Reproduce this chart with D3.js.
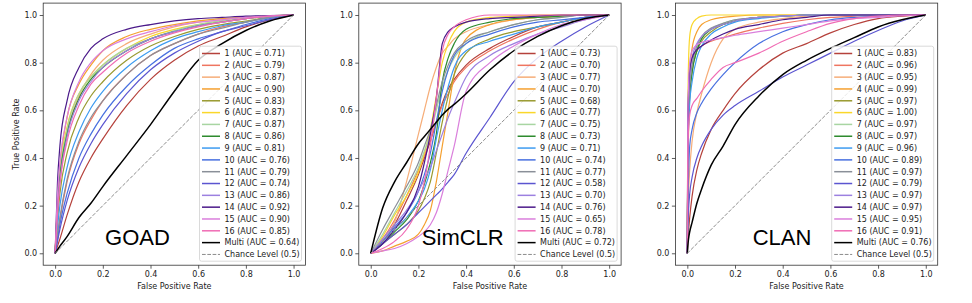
<!DOCTYPE html>
<html><head><meta charset="utf-8">
<script src="https://cdn.jsdelivr.net/npm/d3@7"></script>
<style>body{margin:0;background:#fff}svg text{font-family:"DejaVu Sans",sans-serif}</style>
</head><body><svg id="c" width="972" height="303"></svg>
<script>
// ---------- DATA ----------
const seriesNames = ["1","2","3","4","5","6","7","8","9","10","11","12","13","14","15","16","Multi"];
const panelTitles = ["GOAD","SimCLR","CLAN"];
const axisTicks = [0.0,0.2,0.4,0.6,0.8,1.0];

const goadAUC   = ["0.71","0.79","0.87","0.90","0.83","0.87","0.87","0.86","0.81","0.76","0.79","0.74","0.86","0.92","0.90","0.85","0.64"];
const simclrAUC = ["0.73","0.70","0.77","0.70","0.68","0.77","0.75","0.73","0.71","0.74","0.77","0.58","0.70","0.76","0.65","0.78","0.72"];
const clanAUC   = ["0.83","0.96","0.95","0.99","0.97","1.00","0.97","0.97","0.96","0.89","0.97","0.79","0.97","0.97","0.95","0.91","0.76"];

const goadFPR = [0,0.01,0.02,0.05,0.1,0.15,0.2,0.3,0.4,0.5,0.6,0.7,0.8,0.9,1];
const goadTPR = [
 [0,0.03,0.06,0.16,0.30,0.40,0.48,0.62,0.73,0.81,0.87,0.91,0.95,0.98,1],
 [0,0.07,0.14,0.30,0.46,0.56,0.64,0.75,0.83,0.88,0.92,0.95,0.97,0.99,1],
 [0,0.18,0.30,0.50,0.66,0.75,0.81,0.88,0.92,0.95,0.97,0.98,0.99,0.995,1],
 [0,0.22,0.36,0.57,0.71,0.79,0.85,0.91,0.94,0.96,0.975,0.985,0.99,0.997,1],
 [0,0.14,0.25,0.42,0.57,0.66,0.72,0.81,0.87,0.91,0.94,0.96,0.975,0.99,1],
 [0,0.22,0.35,0.53,0.67,0.74,0.79,0.86,0.91,0.94,0.96,0.975,0.985,0.995,1],
 [0,0.20,0.33,0.52,0.67,0.74,0.79,0.86,0.90,0.935,0.96,0.975,0.985,0.995,1],
 [0,0.20,0.32,0.50,0.65,0.73,0.78,0.85,0.90,0.93,0.955,0.97,0.985,0.995,1],
 [0,0.11,0.20,0.36,0.51,0.61,0.68,0.78,0.85,0.90,0.93,0.955,0.97,0.99,1],
 [0,0.06,0.12,0.25,0.40,0.50,0.58,0.70,0.79,0.86,0.90,0.93,0.96,0.985,1],
 [0,0.08,0.15,0.31,0.47,0.57,0.64,0.75,0.83,0.88,0.92,0.945,0.97,0.99,1],
 [0,0.05,0.10,0.22,0.36,0.46,0.54,0.67,0.77,0.84,0.89,0.93,0.955,0.98,1],
 [0,0.18,0.30,0.49,0.64,0.72,0.78,0.85,0.90,0.93,0.955,0.97,0.985,0.995,1],
 [0,0.30,0.45,0.64,0.78,0.86,0.90,0.94,0.96,0.975,0.985,0.99,0.995,0.998,1],
 [0,0.25,0.38,0.57,0.72,0.80,0.85,0.90,0.93,0.955,0.97,0.98,0.99,0.997,1],
 [0,0.17,0.29,0.47,0.62,0.71,0.76,0.84,0.89,0.925,0.95,0.97,0.985,0.995,1],
 [0,0.015,0.03,0.07,0.15,0.21,0.28,0.41,0.54,0.68,0.81,0.88,0.935,0.975,1]
];

const simclrFPR = [0,0.05,0.1,0.15,0.2,0.225,0.25,0.275,0.3,0.325,0.35,0.4,0.5,0.6,0.7,0.8,0.9,1];
const simclrTPR = [
 [0,0.05,0.12,0.22,0.33,0.40,0.47,0.55,0.63,0.69,0.73,0.79,0.86,0.91,0.95,0.97,0.99,1],
 [0,0.06,0.14,0.24,0.35,0.41,0.48,0.55,0.62,0.67,0.72,0.78,0.85,0.90,0.94,0.97,0.99,1],
 [0,0.05,0.13,0.30,0.50,0.60,0.70,0.78,0.84,0.87,0.90,0.93,0.96,0.98,0.99,0.995,1,1],
 [0,0.01,0.03,0.05,0.08,0.12,0.18,0.30,0.45,0.60,0.75,0.90,0.96,0.98,0.99,0.995,1,1],
 [0,0.04,0.08,0.12,0.18,0.23,0.30,0.42,0.55,0.66,0.75,0.84,0.90,0.93,0.95,0.97,0.99,1],
 [0,0.07,0.16,0.24,0.34,0.42,0.52,0.66,0.80,0.88,0.93,0.97,0.99,0.995,1,1,1,1],
 [0,0.08,0.17,0.26,0.36,0.43,0.50,0.60,0.70,0.77,0.82,0.88,0.93,0.96,0.98,0.99,1,1],
 [0,0.04,0.09,0.14,0.22,0.29,0.38,0.50,0.72,0.82,0.88,0.94,0.97,0.985,0.99,0.995,1,1],
 [0,0.05,0.10,0.15,0.22,0.27,0.35,0.48,0.60,0.70,0.78,0.85,0.89,0.92,0.95,0.97,0.99,1],
 [0,0.05,0.11,0.17,0.26,0.33,0.42,0.55,0.68,0.77,0.83,0.88,0.92,0.95,0.97,0.98,0.99,1],
 [0,0.10,0.19,0.28,0.38,0.45,0.52,0.62,0.72,0.79,0.84,0.89,0.93,0.96,0.98,0.99,1,1],
 [0,0.04,0.08,0.12,0.17,0.195,0.22,0.245,0.27,0.30,0.33,0.42,0.57,0.72,0.82,0.89,0.95,1],
 [0,0.06,0.12,0.18,0.26,0.31,0.36,0.43,0.50,0.57,0.63,0.74,0.83,0.88,0.92,0.95,0.98,1],
 [0,0.04,0.10,0.17,0.28,0.38,0.50,0.65,0.88,0.93,0.95,0.97,0.985,0.99,0.995,1,1,1],
 [0,0.01,0.02,0.04,0.07,0.09,0.12,0.17,0.25,0.35,0.45,0.68,0.80,0.87,0.92,0.96,0.98,1],
 [0,0.02,0.05,0.10,0.20,0.30,0.45,0.65,0.85,0.92,0.95,0.98,1,1,1,1,1,1],
 [0,0.19,0.30,0.38,0.46,0.49,0.52,0.55,0.58,0.605,0.625,0.67,0.77,0.85,0.91,0.955,0.985,1]
];

const clanFPR = [0,0.002,0.005,0.01,0.02,0.04,0.06,0.1,0.15,0.2,0.3,0.4,0.5,0.6,0.7,0.8,0.9,1];
const clanTPR = [
 [0,0.04,0.09,0.15,0.24,0.35,0.42,0.52,0.60,0.67,0.77,0.84,0.88,0.925,0.96,0.985,0.995,1],
 [0,0.45,0.58,0.70,0.79,0.85,0.87,0.89,0.905,0.92,0.945,0.965,0.98,0.99,0.995,1,1,1],
 [0,0.15,0.25,0.35,0.47,0.59,0.67,0.80,0.90,0.94,0.97,0.985,0.995,1,1,1,1,1],
 [0,0.30,0.50,0.75,0.86,0.93,0.96,0.98,0.99,0.995,1,1,1,1,1,1,1,1],
 [0,0.40,0.55,0.66,0.76,0.85,0.89,0.93,0.96,0.975,0.99,0.995,1,1,1,1,1,1],
 [0,0.55,0.80,0.91,0.96,0.985,0.995,1,1,1,1,1,1,1,1,1,1,1],
 [0,0.42,0.57,0.68,0.78,0.86,0.90,0.94,0.965,0.98,0.99,0.995,1,1,1,1,1,1],
 [0,0.40,0.55,0.66,0.76,0.85,0.90,0.94,0.96,0.975,0.99,0.995,1,1,1,1,1,1],
 [0,0.38,0.52,0.63,0.72,0.82,0.87,0.92,0.95,0.97,0.985,0.995,1,1,1,1,1,1],
 [0,0.20,0.32,0.45,0.52,0.59,0.63,0.69,0.75,0.80,0.88,0.93,0.96,0.98,0.99,0.995,1,1],
 [0,0.45,0.60,0.70,0.79,0.87,0.91,0.945,0.965,0.98,0.99,0.995,1,1,1,1,1,1],
 [0,0.10,0.18,0.25,0.32,0.40,0.45,0.52,0.58,0.62,0.68,0.74,0.79,0.84,0.89,0.935,0.975,1],
 [0,0.50,0.65,0.74,0.82,0.88,0.91,0.94,0.96,0.975,0.99,0.995,1,1,1,1,1,1],
 [0,0.55,0.68,0.77,0.82,0.855,0.87,0.895,0.92,0.94,0.96,0.98,0.99,1,1,1,1,1],
 [0,0.55,0.70,0.80,0.85,0.875,0.885,0.895,0.905,0.915,0.93,0.945,0.96,0.975,0.985,0.99,0.997,1],
 [0,0.40,0.52,0.58,0.62,0.65,0.68,0.73,0.78,0.80,0.84,0.89,0.93,0.965,0.985,0.995,1,1],
 [0,0.03,0.06,0.09,0.13,0.21,0.27,0.37,0.45,0.54,0.66,0.75,0.81,0.86,0.905,0.95,0.98,1]
];

// ---------- STYLE ----------
const colors = ["#b5413b","#ef7560","#f6ad78","#f5a030","#999a30","#fad72a","#a8d5a2","#2e8b2e",
                "#3d9bf0","#4870e0","#8a8f98","#5b55d0","#9c80e0","#4b1a8a","#da7fdc","#f06cb4","#000000"];

const panels = [
  {title:panelTitles[0], fpr:goadFPR,   tpr:goadTPR,   auc:goadAUC,   left:43.2,  titleX:137.5},
  {title:panelTitles[1], fpr:simclrFPR, tpr:simclrTPR, auc:simclrAUC, left:358.8, titleX:462.8},
  {title:panelTitles[2], fpr:clanFPR,   tpr:clanTPR,   auc:clanAUC,   left:675.4, titleX:782}
];
const PW = 262.3, PTOP = 3.1, PBOT = 265.2;
const svg = d3.select("#c");

panels.forEach((p, pi) => {
  const x = d3.scaleLinear().domain([-0.05,1.05]).range([p.left, p.left+PW]);
  const y = d3.scaleLinear().domain([-0.05,1.05]).range([PBOT, PTOP]);
  const g = svg.append("g");

  const line = d3.line().x(d=>x(d[0])).y(d=>y(d[1])).curve(d3.curveMonotoneX);
  p.tpr.forEach((t, si) => {
    const pts = p.fpr.map((f,i)=>[f,t[i]]);
    g.append("path").attr("d", line(pts)).attr("fill","none")
      .attr("stroke", colors[si]).attr("stroke-width", si===16 ? 1.5 : 1.2)
      .attr("stroke-linejoin","round");
  });
  g.append("line").attr("x1",x(0)).attr("y1",y(0)).attr("x2",x(1)).attr("y2",y(1))
    .attr("stroke","#8c8c8c").attr("stroke-width",1).attr("stroke-dasharray","3.7,1.6");

  const ax = g.append("g").attr("transform",`translate(0,${PBOT})`)
    .call(d3.axisBottom(x).tickValues(axisTicks).tickFormat(d3.format(".1f")).tickSize(3.5).tickPadding(2.5));
  const ay = g.append("g").attr("transform",`translate(${p.left},0)`)
    .call(d3.axisLeft(y).tickValues(axisTicks).tickFormat(d3.format(".1f")).tickSize(3.5).tickPadding(2.5));
  [ax,ay].forEach(a=>{
    a.select(".domain").remove();
    a.selectAll(".tick line").attr("stroke","#333").attr("stroke-width",0.8);
    a.selectAll(".tick text").attr("fill","#222").style("font-size","8px").style("font-family","DejaVu Sans");
  });
  g.append("rect").attr("x",p.left).attr("y",PTOP).attr("width",PW).attr("height",PBOT-PTOP)
    .attr("fill","none").attr("stroke","#333").attr("stroke-width",0.8);

  g.append("text").attr("x",p.left+PW/2).attr("y",289).attr("text-anchor","middle")
    .attr("fill","#222").style("font-size","8px").text("False Positive Rate");
  if (pi===0) {
    g.append("text").attr("transform",`translate(19,${(PTOP+PBOT)/2}) rotate(-90)`)
      .attr("text-anchor","middle").attr("fill","#222").style("font-size","8px").text("True Positive Rate");
  }

  const lw = 102, lh = 215;
  const lx = p.left + PW - 4 - lw, ly = PBOT - 4 - lh;
  const lg = g.append("g");
  lg.append("rect").attr("x",lx).attr("y",ly).attr("width",lw).attr("height",lh).attr("rx",2)
    .attr("fill","#fff").attr("fill-opacity",0.8).attr("stroke","#d0d0d0").attr("stroke-width",0.8);
  const rowH = 11.82;
  const entries = seriesNames.map((n,i)=>({label:`${n} (AUC = ${p.auc[i]})`, color:colors[i], dash:null, w:1.5}));
  entries.push({label:"Chance Level (0.5)", color:"#8c8c8c", dash:"3.7,1.6", w:1});
  entries.forEach((e,i)=>{
    const yy = ly + 7.3 + i*rowH;
    lg.append("line").attr("x1",lx+2.5).attr("x2",lx+20.5).attr("y1",yy).attr("y2",yy)
      .attr("stroke",e.color).attr("stroke-width",e.w).attr("stroke-dasharray",e.dash);
    lg.append("text").attr("x",lx+25).attr("y",yy).attr("dy","0.35em")
      .attr("fill","#222").style("font-size","8px").text(e.label);
  });

  g.append("text").attr("x",p.titleX).attr("y",245).attr("text-anchor","middle")
    .style("font-family","'Liberation Sans',Arial,sans-serif").style("font-size","22px")
    .attr("fill","#000").text(p.title);
});
</script></body></html>
